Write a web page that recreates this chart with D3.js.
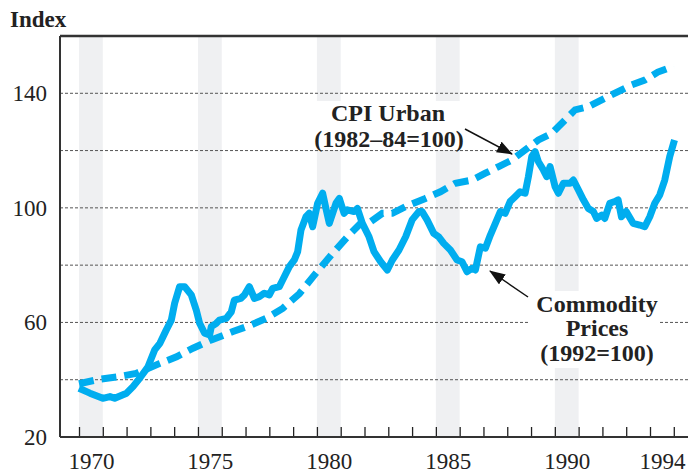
<!DOCTYPE html>
<html>
<head>
<meta charset="utf-8">
<script src="https://cdn.jsdelivr.net/npm/d3@7"></script>
<style>
  body { margin: 0; background: #fff; }
  text { font-family: "Liberation Serif", "Times New Roman", serif; fill: #222; }
</style>
</head>
<body>
<script>
// données (année décimale, indice)
const commodityYears = [1970.0, 1970.46, 1971.0, 1971.3, 1971.5, 1972.0, 1972.27, 1972.55, 1972.9, 1973.18,
  1973.4, 1973.67, 1973.88, 1974.02, 1974.23, 1974.44, 1974.72, 1974.93, 1975.07, 1975.28,
  1975.49, 1975.56, 1975.77, 1975.9, 1976.19, 1976.4, 1976.53, 1976.8, 1976.95, 1977.16,
  1977.37, 1977.58, 1977.79, 1978.0, 1978.14, 1978.42, 1978.56, 1978.84, 1979.05, 1979.19,
  1979.33, 1979.54, 1979.68, 1979.82, 1980.03, 1980.24, 1980.38, 1980.52, 1980.8, 1980.94,
  1981.14, 1981.28, 1981.56, 1981.7, 1981.91, 1982.19, 1982.4, 1982.68, 1982.96, 1983.17,
  1983.45, 1983.73, 1984.0, 1984.29, 1984.42, 1984.63, 1984.91, 1985.12, 1985.33, 1985.61,
  1985.89, 1986.1, 1986.31, 1986.52, 1986.66, 1986.87, 1987.08, 1987.29, 1987.5, 1987.71,
  1987.91, 1988.12, 1988.33, 1988.54, 1988.75, 1988.89, 1989.03, 1989.17, 1989.31, 1989.52,
  1989.66, 1989.8, 1990.01, 1990.15, 1990.36, 1990.64, 1990.78, 1990.99, 1991.2, 1991.41,
  1991.62, 1991.76, 1991.97, 1992.1, 1992.31, 1992.52, 1992.66, 1992.8, 1993.0, 1993.29,
  1993.57, 1993.78, 1993.99, 1994.2, 1994.41, 1994.62, 1994.83, 1995.03]
const commodityValues = [37.0, 35.3, 33.5, 34.1, 33.5, 35.3, 37.6, 40.5, 44.5, 50.4,
  52.7, 57.4, 60.8, 66.7, 72.5, 72.5, 69.6, 64.3, 59.7, 56.2,
  55.6, 58.5, 59.7, 60.8, 61.4, 63.7, 67.8, 68.4, 69.6, 72.5,
  68.4, 69.0, 70.2, 69.6, 71.9, 72.5, 74.8, 79.5, 81.8, 84.7,
  92.3, 96.9, 98.1, 93.4, 101.6, 105.1, 99.8, 94.6, 101.6, 103.3,
  98.1, 99.3, 98.7, 99.8, 94.6, 89.9, 84.7, 81.2, 78.3, 81.8,
  85.3, 89.9, 95.8, 98.7, 98.7, 95.8, 91.1, 89.9, 87.6, 85.3,
  81.8, 81.2, 77.7, 78.9, 78.3, 86.4, 85.9, 90.5, 94.6, 98.7,
  98.1, 102.2, 103.9, 105.6, 105.1, 110.9, 117.9, 119.6, 116.1, 113.2,
  110.9, 114.4, 107.4, 105.1, 108.6, 108.6, 109.7, 106.3, 102.8, 99.8,
  98.7, 96.3, 97.5, 96.3, 101.6, 102.2, 102.8, 96.9, 98.7, 94.6,
  94.0, 93.4, 96.9, 101.6, 104.5, 109.7, 117.9, 123.7]

const cpiYears = [1970.0, 1970.88, 1971.7, 1972.4, 1973.4, 1974.1, 1974.79, 1975.56, 1976.47, 1977.23,
  1977.86, 1978.56, 1979.26, 1979.96, 1980.66, 1981.35, 1981.84, 1982.26, 1982.75, 1983.17,
  1983.87, 1984.56, 1985.19, 1985.82, 1986.52, 1987.08, 1987.64, 1988.19, 1988.75, 1989.31,
  1989.87, 1990.43, 1990.85, 1991.41, 1991.97, 1992.66, 1993.22, 1993.78, 1994.33, 1995.0]
const cpiValues = [38.6, 40.2, 41.1, 42.2, 45.7, 48.0, 51.0, 53.9, 56.8, 59.1,
  61.4, 64.9, 70.0, 77.2, 84.1, 90.5, 94.6, 95.2, 98.1, 98.1,
  101.0, 103.3, 105.6, 108.6, 109.7, 112.1, 114.4, 116.7, 120.2, 123.7,
  126.0, 130.7, 134.2, 135.3, 137.7, 140.6, 142.9, 144.6, 147.4, 149.5]

const shadedYears = [1970, 1975, 1980, 1985, 1990]
const yearLabels = [1970, 1975, 1980, 1985, 1990, 1994]
const yLabels = [20, 60, 100, 140]
const gridValues = [40, 60, 80, 100, 120, 140]

const WIDTH = 688
const HEIGHT = 475
const LEFT = 60, TOP = 36, BOTTOM = 437, RIGHT = 700
const BLUE = "#00adef"

const svg = d3.select("body").append("svg")
  .attr("width", WIDTH)
  .attr("height", HEIGHT)

const x = d3.scaleLinear().domain([1970, 1994]).range([79, 650])
const y = d3.scaleLinear().domain([20, 160]).range([BOTTOM, TOP])

//------- bandes grises -------
svg.selectAll("rect.band")
  .data(shadedYears)
  .enter()
  .append("rect")
  .attr("class", "band")
  .attr("x", d => x(d))
  .attr("y", TOP)
  .attr("width", d => x(d + 1) - x(d))
  .attr("height", BOTTOM - TOP)
  .attr("fill", "#eff0f2")

//------- grille -------
svg.selectAll("line.grid")
  .data(gridValues)
  .enter()
  .append("line")
  .attr("x1", LEFT)
  .attr("x2", RIGHT)
  .attr("y1", d => y(d))
  .attr("y2", d => y(d))
  .attr("stroke", "#555")
  .attr("stroke-width", 1)
  .attr("stroke-dasharray", "3,2")

// fonds blancs derrière les étiquettes
svg.append("rect").attr("x", 310).attr("y", 101).attr("width", 158).attr("height", 49).attr("fill", "#fff")
svg.append("rect").attr("x", 530).attr("y", 291).attr("width", 129).attr("height", 77).attr("fill", "#fff")

//------- axes -------
const xTicks = d3.range(1970, 1996)
svg.append("g")
  .attr("transform", `translate(0,${BOTTOM})`)
  .call(d3.axisBottom(x).tickValues(xTicks).tickSizeInner(-10).tickSizeOuter(0).tickFormat(""))
  .call(g => g.select(".domain").remove())
  .call(g => g.selectAll(".tick line").attr("stroke", "#222").attr("stroke-width", 1.3))

svg.append("g")
  .attr("transform", `translate(0,${BOTTOM + 29})`)
  .call(d3.axisBottom(x).tickValues(yearLabels.map(d => d + 0.5)).tickSize(0).tickFormat(d => Math.floor(d)))
  .call(g => g.select(".domain").remove())
  .call(g => g.selectAll("text").attr("font-size", 23).attr("dy", 0).attr("fill", "#222")
    .style("font-family", '"Liberation Serif", serif'))

svg.append("g")
  .attr("transform", `translate(${LEFT},0)`)
  .call(d3.axisLeft(y).tickValues(yLabels).tickSize(0).tickPadding(13))
  .call(g => g.select(".domain").remove())
  .call(g => g.selectAll("text").attr("font-size", 23).attr("fill", "#222")
    .style("font-family", '"Liberation Serif", serif'))

// cadre
svg.append("line").attr("x1", LEFT).attr("x2", RIGHT).attr("y1", TOP).attr("y2", TOP)
  .attr("stroke", "#333").attr("stroke-width", 2.5)
svg.append("line").attr("x1", LEFT).attr("x2", LEFT).attr("y1", TOP).attr("y2", BOTTOM)
  .attr("stroke", "#333").attr("stroke-width", 2)
svg.append("line").attr("x1", LEFT).attr("x2", RIGHT).attr("y1", BOTTOM).attr("y2", BOTTOM)
  .attr("stroke", "#333").attr("stroke-width", 2)

//------- courbes -------
const line = d3.line().x(d => x(d[0])).y(d => y(d[1]))

svg.append("path")
  .datum(cpiYears.map((d, i) => [d, cpiValues[i]]))
  .attr("d", line)
  .attr("fill", "none")
  .attr("stroke", BLUE)
  .attr("stroke-width", 7)
  .attr("stroke-dasharray", "15,8")

svg.append("path")
  .datum(commodityYears.map((d, i) => [d, commodityValues[i]]))
  .attr("d", line)
  .attr("fill", "none")
  .attr("stroke", BLUE)
  .attr("stroke-width", 7)
  .attr("stroke-linejoin", "round")

//------- textes -------
svg.append("text").text("Index").attr("x", 10).attr("y", 27)
  .attr("font-size", 23).attr("font-weight", "bold")

const cpiLabel = svg.append("text").attr("text-anchor", "middle")
  .attr("font-size", 24).attr("font-weight", "bold")
cpiLabel.append("tspan").attr("x", 388).attr("y", 121).text("CPI Urban")
cpiLabel.append("tspan").attr("x", 389).attr("y", 147).text("(1982–84=100)")

const comLabel = svg.append("text").attr("text-anchor", "middle")
  .attr("font-size", 24).attr("font-weight", "bold")
comLabel.append("tspan").attr("x", 597).attr("y", 312).text("Commodity")
comLabel.append("tspan").attr("x", 597).attr("y", 336).text("Prices")
comLabel.append("tspan").attr("x", 597).attr("y", 361).text("(1992=100)")

// flèches
svg.append("defs").append("marker")
  .attr("id", "arrow")
  .attr("markerUnits", "userSpaceOnUse")
  .attr("markerWidth", 16).attr("markerHeight", 12)
  .attr("refX", 15).attr("refY", 6)
  .attr("orient", "auto")
  .append("path").attr("d", "M0,0L16,6L0,12Z").attr("fill", "#111")

svg.append("line").attr("x1", 465).attr("y1", 129).attr("x2", 512).attr("y2", 154)
  .attr("stroke", "#111").attr("stroke-width", 1.5).attr("marker-end", "url(#arrow)")
svg.append("line").attr("x1", 528).attr("y1", 297).attr("x2", 490).attr("y2", 271)
  .attr("stroke", "#111").attr("stroke-width", 1.5).attr("marker-end", "url(#arrow)")
</script>
</body>
</html>
